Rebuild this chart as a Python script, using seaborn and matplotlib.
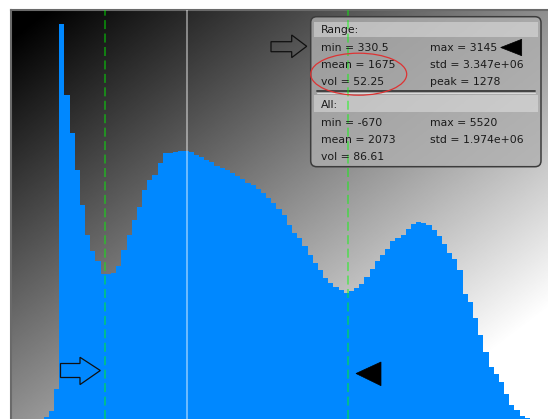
import numpy as np
import pandas as pd
import seaborn as sns
import matplotlib
matplotlib.use("Agg")
import matplotlib.pyplot as plt
import matplotlib.transforms as mtransforms
from matplotlib.patches import FancyBboxPatch, Polygon, Ellipse, Rectangle
from matplotlib.lines import Line2D

# ---------------- data ----------------
bin_start = -380
bin_width = 60
counts = [2, 8, 30, 395, 324, 286, 249, 214, 184, 168, 158, 145, 145, 146, 153, 169,
          184, 199, 212, 229, 239, 244, 256, 266, 266, 267, 268, 268, 267, 264, 262,
          259, 257, 253, 251, 249, 246, 243, 240, 236, 234, 230, 226, 221, 216, 210,
          204, 194, 186, 181, 173, 164, 156, 149, 141, 136, 132, 129, 126, 128, 131,
          135, 142, 150, 158, 164, 170, 178, 181, 184, 190, 195, 197, 196, 194, 189,
          183, 175, 166, 160, 149, 125, 117, 101, 84, 67, 52, 45, 37, 25, 14, 9, 3, 1]
range_min = 330.5
range_max = 3145
peak = 1278

range_labels = ["min = 330.5", "mean = 1675", "vol = 52.25"]
range_labels2 = ["max = 3145", "std = 3.347e+06", "peak = 1278"]
all_labels = ["min = -670", "mean = 2073", "vol = 86.61"]
all_labels2 = ["max = 5520", "std = 1.974e+06"]

edges = [float(bin_start + bin_width * k) for k in range(len(counts) + 1)]
centers = [e + bin_width / 2 for e in edges[:-1]]
df = pd.DataFrame({"value": centers, "count": [float(c) for c in counts]})

# ---------------- figure ----------------
W, H = 548, 419
sns.set_theme(style="white")
plt.rcParams["font.family"] = ["DejaVu Sans"]

fig = plt.figure(figsize=(W / 100, H / 100), dpi=100)
fig.patch.set_facecolor("white")
ax = fig.add_axes([11 / W, 0, 537 / W, 409 / H])

# gradient background
u = np.linspace(0, 1, 537)
w = np.linspace(0, 1, 409)
U, V = np.meshgrid(u, w)
grad = np.clip(1.2 * (U + V) / 2 - 0.04, 0, 1)
ax.imshow(grad, cmap="gray", vmin=0, vmax=1, extent=(0, 1, 0, 1),
          transform=ax.transAxes, aspect="auto", zorder=0, origin="upper",
          interpolation="bilinear")

sns.histplot(data=df, x="value", weights="count", bins=edges, element="step",
             fill=True, color="#0088ff", alpha=1, linewidth=0, ax=ax, zorder=2)

ax.set_xlim(-760, 5470)
ax.set_ylim(0, 409)
ax.set_xticks([])
ax.set_yticks([])
ax.set_xlabel("")
ax.set_ylabel("")
for side in ["right", "bottom"]:
    ax.spines[side].set_visible(False)
for side in ["top", "left"]:
    ax.spines[side].set_color("#6a6a6a")
    ax.spines[side].set_linewidth(1.5)

# pixel transform (origin top-left)
pix = mtransforms.Affine2D().scale(1, -1).translate(0, H)

# stats box
box = FancyBboxPatch((310.7, 16.7), 230.3, 150, boxstyle="round,pad=0,rounding_size=6",
                     transform=pix, facecolor="#b0b0b0", alpha=0.78,
                     edgecolor="none", zorder=3, clip_on=False)
ax.add_patch(box)
box_edge = FancyBboxPatch((310.7, 16.7), 230.3, 150, boxstyle="round,pad=0,rounding_size=6",
                          transform=pix, facecolor="none", edgecolor="#3c3c3c",
                          linewidth=1.1, zorder=3.2, clip_on=False)
ax.add_patch(box_edge)
for y0, h in [(21.7, 15), (95, 17)]:
    ax.add_patch(Rectangle((314, y0), 224, h, transform=pix, facecolor="white",
                           alpha=0.35, edgecolor="none", zorder=3.1, clip_on=False))
ax.add_line(Line2D([316.7, 535], [91.4, 91.4], transform=pix, color="#3a3a3a",
                   linewidth=1.3, zorder=3.2))
ax.add_line(Line2D([316.7, 535], [93.2, 93.2], transform=pix, color="#dcdcdc",
                   linewidth=0.7, zorder=3.2))

tkw = dict(transform=pix, fontsize=7.8, color="#1a1a1a", va="center", ha="left", zorder=5)
ax.text(320.7, 30.2, "Range:", **tkw)
for i, (a, b) in enumerate(zip(range_labels, range_labels2)):
    y = 47.7 + i * 17
    ax.text(320.7, y, a, **tkw)
    ax.text(430, y, b, **tkw)
ax.text(320.7, 105.0, "All:", **tkw)
for i, a in enumerate(all_labels):
    y = 122.7 + i * 17
    ax.text(320.7, y, a, **tkw)
    if i < len(all_labels2):
        ax.text(430, y, all_labels2[i], **tkw)

# vertical markers
for v in [range_min, range_max]:
    ax.axvline(v, color="#00ff00", alpha=0.55, linewidth=1.1, dashes=(5.9, 2.9), zorder=4)
ax.axvline(peak, color="white", alpha=0.55, linewidth=1.1, zorder=4)

# annotations: arrows, triangles, ellipse
arrow_top = [(271, 41.7), (291.7, 41.7), (291.7, 35), (306.7, 46.3),
             (291.7, 57.6), (291.7, 51.7), (271, 51.7)]
arrow_bot = [(60.5, 363.5), (80, 363.5), (80, 357.3), (100.3, 370.5),
             (80, 384.6), (80, 377.5), (60.5, 377.5)]
for pts in [arrow_top, arrow_bot]:
    ax.add_patch(Polygon(pts, closed=True, transform=pix, facecolor="none",
                         edgecolor="#101010", linewidth=0.9, zorder=6, clip_on=False))
for pts in [[(500.7, 47.5), (521.7, 39.3), (521.7, 55.7)],
            [(356, 373.5), (381, 362), (381, 385.7)]]:
    ax.add_patch(Polygon(pts, closed=True, transform=pix, facecolor="black",
                         edgecolor="black", linewidth=0.5, zorder=6, clip_on=False))
ax.add_patch(Ellipse((358.7, 74.2), 96, 42, transform=pix, fill=False,
                     edgecolor="#dd3333", linewidth=0.9, zorder=6, clip_on=False))

ax.set_xlim(-760, 5470)
ax.set_ylim(0, 409)
fig.savefig("out.png", dpi=100)
